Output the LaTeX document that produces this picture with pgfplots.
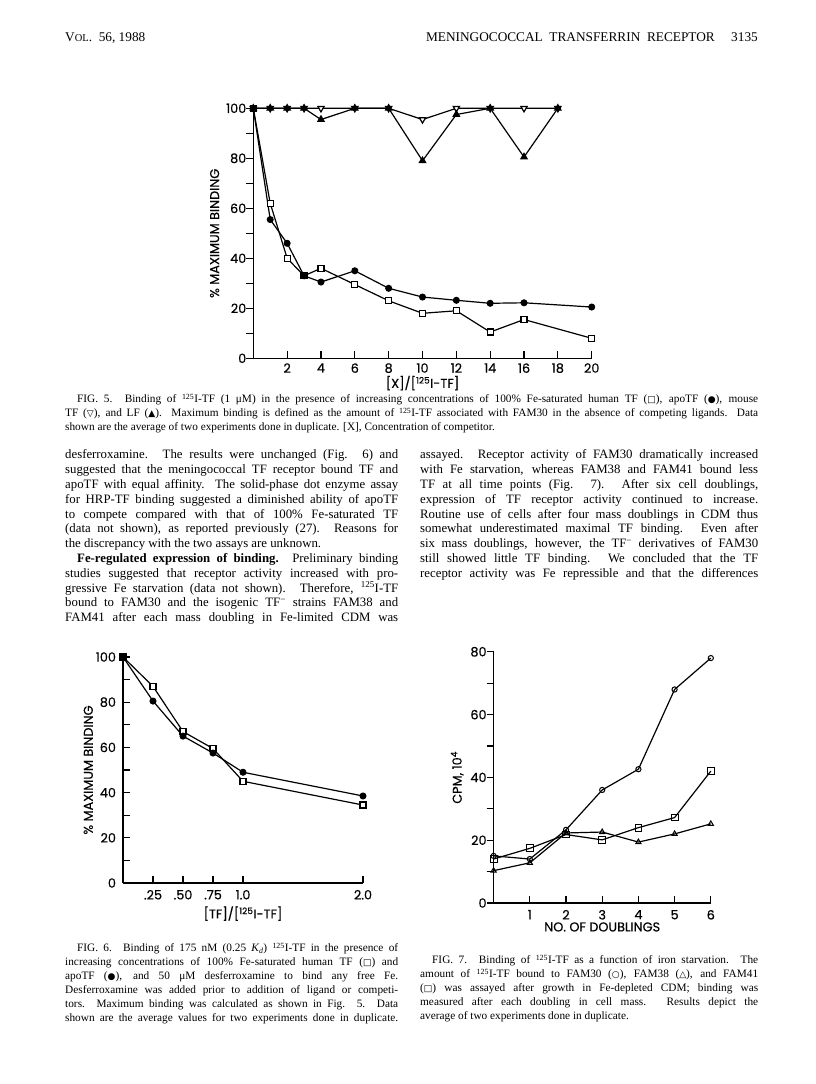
\documentclass[border=0pt]{standalone}
\usepackage{pgfplots}
\pgfplotsset{compat=1.18}
\usepackage{fontspec}
\setmainfont{Liberation Serif}
\newfontfamily\figfont[FakeBold=0.4]{Poppins}
\newfontfamily\symfont{DejaVu Sans}
\newcommand{\sy}[1]{{\symfont\fontsize{9}{9}\selectfont #1}}
\newcommand{\iso}{\textsuperscript{125}I}
\newcommand{\bodyfont}{\fontsize{12.8}{14}\selectfont}
\newcommand{\capfont}{\fontsize{11.3}{12}\selectfont}
\newcommand{\axfont}{\figfont\fontsize{12.8}{12.8}\selectfont}
% one justified line: x, baseline from top, width, text
\newcommand{\jl}[4]{\node[anchor=base west,inner sep=0pt] at ({#1pt},{1084pt-#2pt}) {\makebox[#3pt][s]{#4}};}
% one ragged line: x, baseline from top, text
\newcommand{\rl}[3]{\node[anchor=base west,inner sep=0pt] at ({#1pt},{1084pt-#2pt}) {#3};}

\pgfplotsset{
  paper/.style={
    anchor=south west, clip=false,
    axis x line=bottom, axis y line=left,
    axis line style={-, line width=1.2pt},
    tick align=center, major tick length=7pt, minor tick length=7pt,
    every tick/.style={black, line width=1.2pt},
    /pgf/number format/assume math mode=true,
    ticklabel style={font=\axfont},
    label style={font=\axfont},
    every axis plot/.append style={black, line width=1.2pt, mark options={solid, line width=1pt}},
  },
  sq/.style={mark=square*, mark size=3pt, mark options={fill=white}},
  dot/.style={mark=*, mark size=3pt},
  tdown/.style={mark=triangle*, mark size=3.6pt, mark options={fill=white, rotate=180}},
  tup/.style={mark=triangle*, mark size=3.6pt, mark options={fill=black}},
}

\begin{document}
\begin{tikzpicture}
\path[use as bounding box] (0,0) rectangle (816pt,1084pt);

% running head
\begin{scope}[font=\fontsize{13.3}{14}\selectfont]
\rl{65}{42}{V{\fontsize{10.5}{10.5}\selectfont OL}.\ \ 56,\ 1988}
\node[anchor=base east,inner sep=0pt] at ({715pt},{1084pt-42pt}) {MENINGOCOCCAL\ \ TRANSFERRIN\ \ RECEPTOR};
\node[anchor=base east,inner sep=0pt] at ({758pt},{1084pt-42pt}) {3135};
\end{scope}

% ---------------- FIG. 5
\begin{axis}[paper,
  at={(253.3pt,{1084pt-358.3pt})},
  x=16.92pt, y=2.5pt,
  xmin=0, xmax=20, ymin=0, ymax=100,
  xtick={2,4,...,20}, ytick={0,20,...,100}, minor ytick={10,30,...,90},
  xtick style={yshift=3.5pt}, ytick style={xshift=-3.5pt},
  xticklabel style={yshift=2pt},
  xlabel={[X]/[\textsuperscript{125}I-TF]}, ylabel={\% MAXIMUM BINDING},
  xlabel style={yshift=4pt},
]
% mouse TF
\addplot[tdown] coordinates {(0,100)(1,100)(2,100)(3,100)(4,100)(6,100)(8,100)(10,95.5)(12,100)(14,100)(16,100)(18,100)};
% LF
\addplot[tup] coordinates {(0,100)(1,100)(2,100)(3,100)(4,95.5)(6,100)(8,100)(10,79)(12,97.5)(14,100)(16,80.5)(18,100)};
% human TF
\addplot[sq] coordinates {(0,100)(1,62)(2,40)(3,33)(4,36)(6,29.5)(8,23)(10,18)(12,19)(14,10.5)(16,15.5)(20,8)};
% apoTF
\addplot[dot] coordinates {(0,100)(1,55.5)(2,46)(3,33)(4,30.5)(6,35)(8,28)(10,24.5)(12,23.2)(14,22)(16,22.2)(20,20.5)};
\end{axis}

\begin{scope}[font=\capfont]
\jl{77}{403}{681}{FIG. 5. Binding of \iso-TF (1 μM) in the presence of increasing concentrations of 100\% Fe-saturated human TF (\sy{□}), apoTF (\sy{●}), mouse}
\jl{65}{417}{693}{TF (\sy{▽}), and LF (\sy{▲}). Maximum binding is defined as the amount of \iso-TF associated with FAM30 in the absence of competing ligands. Data}
\rl{65}{431}{shown are the average of two experiments done in duplicate. [X], Concentration of competitor.}
\end{scope}

% body text
\begin{scope}[font=\bodyfont]
\jl{65}{459}{333}{desferroxamine. The results were unchanged (Fig. 6) and}
\jl{65}{473.8}{333}{suggested that the meningococcal TF receptor bound TF and}
\jl{65}{488.6}{333}{apoTF with equal affinity. The solid-phase dot enzyme assay}
\jl{65}{503.4}{333}{for HRP-TF binding suggested a diminished ability of apoTF}
\jl{65}{518.2}{333}{to compete compared with that of 100\% Fe-saturated TF}
\jl{65}{533}{333}{(data not shown), as reported previously (27). Reasons for}
\rl{65}{547.8}{the discrepancy with the two assays are unknown.}
\jl{77}{562.6}{321}{\textbf{Fe-regulated expression of binding.} Preliminary binding}
\jl{65}{577.4}{333}{studies suggested that receptor activity increased with pro-}
\jl{65}{592.2}{333}{gressive Fe starvation (data not shown). Therefore, \iso-TF}
\jl{65}{607}{333}{bound to FAM30 and the isogenic TF\textsuperscript{−} strains FAM38 and}
\jl{65}{621.8}{333}{FAM41 after each mass doubling in Fe-limited CDM was}

\jl{420}{459}{338}{assayed. Receptor activity of FAM30 dramatically increased}
\jl{420}{473.8}{338}{with Fe starvation, whereas FAM38 and FAM41 bound less}
\jl{420}{488.6}{338}{TF at all time points (Fig. 7). After six cell doublings,}
\jl{420}{503.4}{338}{expression of TF receptor activity continued to increase.}
\jl{420}{518.2}{338}{Routine use of cells after four mass doublings in CDM thus}
\jl{420}{533}{338}{somewhat underestimated maximal TF binding. Even after}
\jl{420}{547.8}{338}{six mass doublings, however, the TF\textsuperscript{−} derivatives of FAM30}
\jl{420}{562.6}{338}{still showed little TF binding. We concluded that the TF}
\jl{420}{577.4}{338}{receptor activity was Fe repressible and that the differences}
\end{scope}

% ---------------- FIG. 6
\begin{axis}[paper,
  at={(123pt,{1084pt-883pt})},
  x=120pt, y=2.26pt,
  xmin=0, xmax=2, ymin=0, ymax=100,
  xtick={0.25,0.5,0.75,1,2}, xticklabels={.25,.50,.75,1.0,2.0},
  ytick={0,20,...,100}, minor ytick={10,30,...,90},
  xtick style={yshift=3.5pt}, ytick style={xshift=3.5pt},
  xlabel={[TF]/[\textsuperscript{125}I-TF]}, ylabel={\% MAXIMUM BINDING},
  ylabel style={yshift=-4pt},
]
% human TF
\addplot[sq] coordinates {(0,100)(0.25,87)(0.5,67)(0.75,59.5)(1,45)(2,34.5)};
% apoTF
\addplot[dot] coordinates {(0,100)(0.25,80.5)(0.5,65)(0.75,57.5)(1,49)(2,38.5)};
\end{axis}

% ---------------- FIG. 7
\begin{axis}[paper,
  at={(493.6pt,{1084pt-903pt})},
  x=36.2pt, y=3.14pt,
  xmin=0, xmax=6, ymin=0, ymax=80,
  xtick={1,...,6}, ytick={0,20,...,80}, minor ytick={10,30,...,70},
  xtick style={yshift=3.5pt}, ytick style={xshift=-3.5pt},
  xlabel={NO. OF DOUBLINGS}, ylabel={CPM, 10\textsuperscript{4}},
  xlabel style={yshift=4pt},
]
% FAM30
\addplot[mark=o, mark size=2.6pt] coordinates {(0,15)(1,14)(2,23.3)(3,36)(4,42.6)(5,68)(6,78)};
% FAM38
\addplot[mark=triangle, mark size=3pt] coordinates {(0,10.3)(1,12.8)(2,22.3)(3,22.6)(4,19.4)(5,22)(6,25.2)};
% FAM41
\addplot[mark=square, mark size=3.4pt] coordinates {(0,14)(1,17.4)(2,21.8)(3,20.1)(4,24)(5,27.2)(6,42)};
\end{axis}

\begin{scope}[font=\capfont]
\jl{77}{952}{321}{FIG. 6. Binding of 175 nM (0.25 \textit{K\textsubscript{d}}) \iso-TF in the presence of}
\jl{65}{966}{333}{increasing concentrations of 100\% Fe-saturated human TF (\sy{□}) and}
\jl{65}{980}{333}{apoTF (\sy{●}), and 50 μM desferroxamine to bind any free Fe.}
\jl{65}{994}{333}{Desferroxamine was added prior to addition of ligand or competi-}
\jl{65}{1008}{333}{tors. Maximum binding was calculated as shown in Fig. 5. Data}
\jl{65}{1022}{333}{shown are the average values for two experiments done in duplicate.}

\jl{432}{964}{326}{FIG. 7. Binding of \iso-TF as a function of iron starvation. The}
\jl{420}{978}{338}{amount of \iso-TF bound to FAM30 (\sy{○}), FAM38 (\sy{△}), and FAM41}
\jl{420}{992}{338}{(\sy{□}) was assayed after growth in Fe-depleted CDM; binding was}
\jl{420}{1006}{338}{measured after each doubling in cell mass. Results depict the}
\rl{420}{1020}{average of two experiments done in duplicate.}
\end{scope}
\end{tikzpicture}
\end{document}
